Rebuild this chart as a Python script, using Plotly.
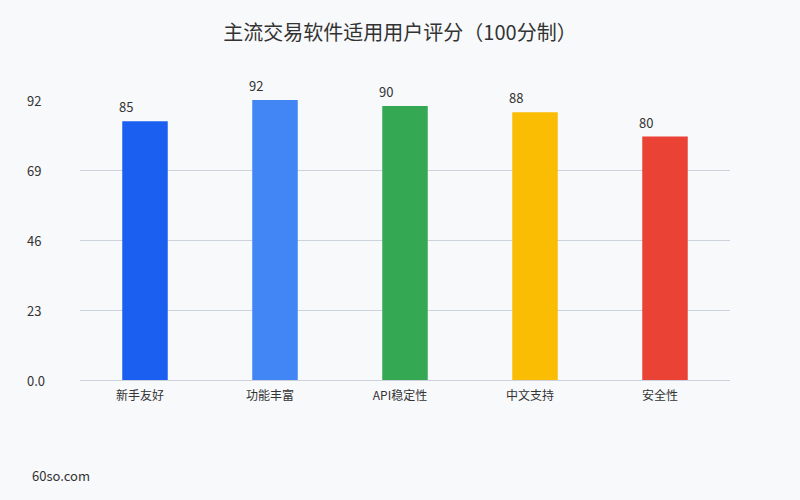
import plotly.graph_objects as go

categories = ["新手友好", "功能丰富", "API稳定性", "中文支持", "安全性"]
scores = [85, 92, 90, 88, 80]
colors = ["#1a5ff0", "#4285f4", "#34a853", "#fbbc04", "#ea4335"]
tick_vals = [0, 23, 46, 69, 92]
tick_text = ["0.0", "23", "46", "69", "92"]

FONT = "Noto Sans CJK SC, Noto Sans, sans-serif"

fig = go.Figure()
fig.add_trace(go.Bar(
    x=categories, y=scores, marker_color=colors, width=0.35,
    marker_line_width=0, hoverinfo="skip",
))

annotations = []
for c, v in zip(categories, scores):
    annotations.append(dict(x=c, y=v, xref="x", yref="y", text=str(v),
                            showarrow=False, xanchor="center", yanchor="bottom",
                            xshift=-19, yshift=3,
                            font=dict(family=FONT, size=13, color="#333333")))
for tv, tt in zip(tick_vals, tick_text):
    annotations.append(dict(x=-0.085, y=tv, xref="paper", yref="y", text=tt,
                            showarrow=False, xanchor="left", yanchor="middle",
                            font=dict(family=FONT, size=13, color="#333333")))
annotations.append(dict(x=-0.077, y=-0.34, xref="paper", yref="paper", text="60so.com",
                        showarrow=False, xanchor="left", yanchor="middle",
                        font=dict(family=FONT, size=13, color="#333333")))

fig.update_layout(
    width=800, height=500,
    margin=dict(l=80, r=70, t=100, b=120),
    paper_bgcolor="#f8f9fb", plot_bgcolor="#f8f9fb",
    title=dict(text="主流交易软件适用用户评分（100分制）", x=0.5, xanchor="center",
               y=0.934, yanchor="middle",
               font=dict(family=FONT, size=20, color="#333333")),
    showlegend=False,
    bargap=0.65,
    xaxis=dict(showgrid=False, showline=True, linecolor="#ccd2dc", linewidth=1,
               ticks="", ticklabelshift=-5, ticklabelstandoff=5,
               tickfont=dict(family=FONT, size=12, color="#333333")),
    yaxis=dict(range=[0, 92], tickvals=tick_vals, showticklabels=False,
               gridcolor="#ccd2dc", gridwidth=1, zeroline=False, showline=False),
    annotations=annotations,
)

fig.write_html("out.html")
